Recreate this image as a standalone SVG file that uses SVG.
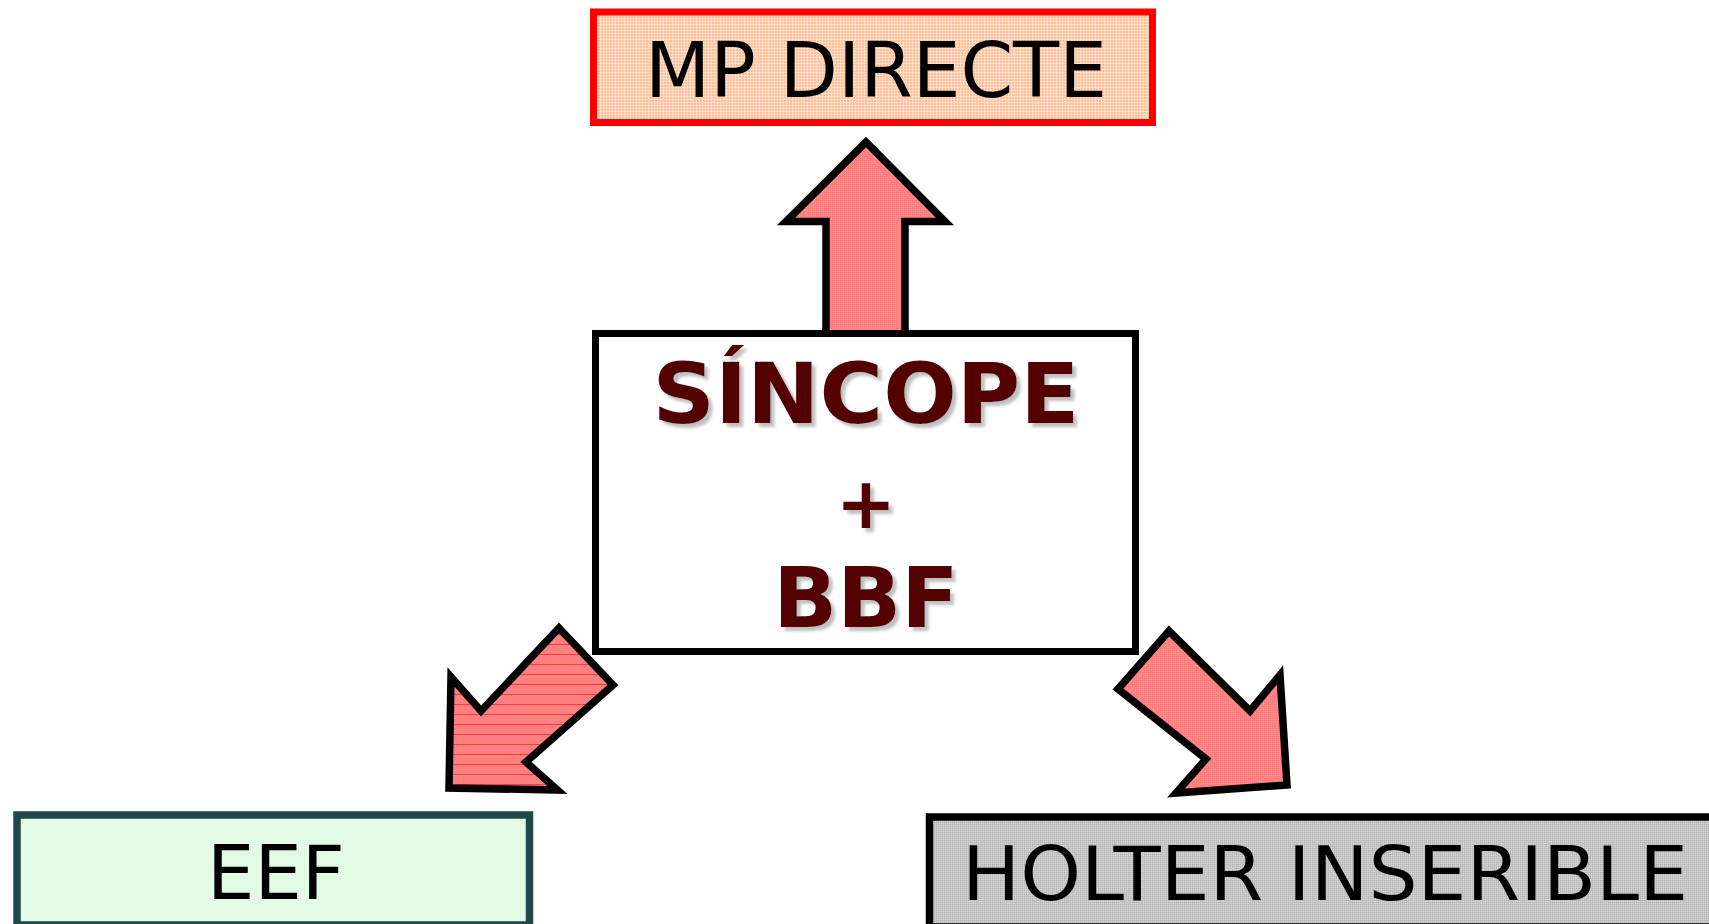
<svg xmlns="http://www.w3.org/2000/svg" width="1709" height="924" viewBox="0 0 1709 924">
  <defs>
    <!-- textured fills -->
    <pattern id="peachGrid" width="3" height="3" patternUnits="userSpaceOnUse">
      <rect width="3" height="3" fill="#FFC09A"/>
      <rect width="3" height="1" fill="#FFDCC6"/>
      <rect width="1" height="3" fill="#FFDCC6"/>
    </pattern>
    <pattern id="salmonDots" width="2" height="2" patternUnits="userSpaceOnUse">
      <rect width="2" height="2" fill="#FF8484"/>
      <rect width="1" height="1" fill="#FF7A7A"/>
      <rect x="1" y="1" width="1" height="1" fill="#FF8C8C"/>
    </pattern>
    <pattern id="salmonLines" width="8" height="10" patternUnits="userSpaceOnUse">
      <rect width="8" height="10" fill="#FF8080"/>
      <rect y="4" width="8" height="1" fill="#FF3B3B"/>
    </pattern>
    <pattern id="greenDots" width="2" height="2" patternUnits="userSpaceOnUse">
      <rect width="2" height="2" fill="#E6FBE8"/>
      <rect width="1" height="1" fill="#DDF6E0"/>
    </pattern>
    <pattern id="greyDots" width="2" height="2" patternUnits="userSpaceOnUse">
      <rect width="2" height="2" fill="#C6C6C6"/>
      <rect width="1" height="1" fill="#B6B6B6"/>
      <rect x="1" y="1" width="1" height="1" fill="#D2D2D2"/>
    </pattern>
    <filter id="softShadow" x="-10%" y="-10%" width="130%" height="140%">
      <feDropShadow dx="4" dy="4" stdDeviation="1.6" flood-color="#8C8C8C" flood-opacity="0.55"/>
    </filter>
  </defs>
  <style>
    .label { font-family: "DejaVu Sans", Verdana, sans-serif; fill: #000; }
    .core { font-family: "DejaVu Sans", Verdana, sans-serif; font-weight: bold; fill: #520000; filter: url(#softShadow); }
    .arrow { stroke: #000; stroke-width: 7.5; stroke-linejoin: miter; stroke-miterlimit: 10; }
  </style>

  <rect width="1709" height="924" fill="#FFFFFF"/>

  <!-- block arrows leading out of the central box -->
  <g id="connectors">
    <path class="arrow" fill="url(#salmonDots)" d="M826,333 L826,221.5 L786,221.5 L866,142 L945,221.5 L905,221.5 L905,333"/>
    <polygon class="arrow" fill="url(#salmonLines)" points="559,628 613,685 526,762 557.5,790 449,788 451,677 481,711"/>
    <polygon class="arrow" fill="url(#salmonDots)" points="1169,631 1250,711 1280,675 1287,785 1176,793 1206,759 1118,689"/>
  </g>

  <g id="node-mp-directe">
    <rect x="593.5" y="12" width="559" height="110.5" fill="url(#peachGrid)" stroke="#FF0000" stroke-width="7"/>
    <text class="label" x="876" y="97" font-size="76" text-anchor="middle" textLength="462" lengthAdjust="spacingAndGlyphs">MP DIRECTE</text>
  </g>

  <g id="node-sincope">
    <rect x="595.5" y="333.5" width="540" height="318" fill="#FFFFFF" stroke="#000" stroke-width="7"/>
    <text class="core" x="866" y="423" font-size="84" text-anchor="middle" textLength="427" lengthAdjust="spacingAndGlyphs">SÍNCOPE</text>
    <text class="core" x="866" y="528" font-size="72" text-anchor="middle">+</text>
    <text class="core" x="866" y="627" font-size="84" text-anchor="middle">BBF</text>
  </g>

  <g id="node-eef">
    <rect x="17" y="815" width="512.5" height="110" fill="url(#greenDots)" stroke="#1F4848" stroke-width="7.5"/>
    <text class="label" x="276" y="899" font-size="75" text-anchor="middle">EEF</text>
  </g>

  <g id="node-holter">
    <rect x="929.5" y="817" width="790" height="110" fill="url(#greyDots)" stroke="#000" stroke-width="7.5"/>
    <text class="label" x="962" y="900" font-size="74" textLength="726" lengthAdjust="spacingAndGlyphs">HOLTER INSERIBLE</text>
  </g>
</svg>
